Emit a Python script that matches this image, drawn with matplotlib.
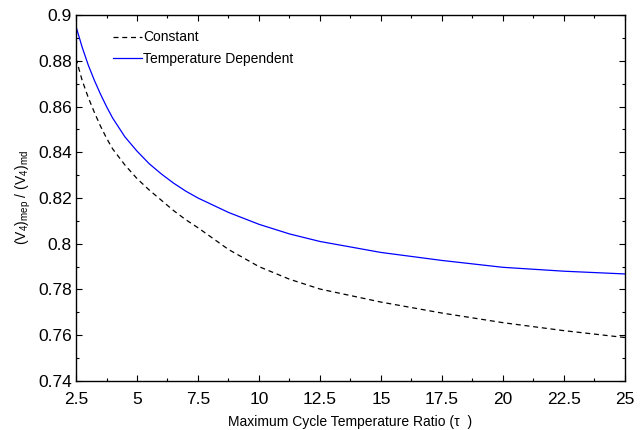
import numpy as np
import matplotlib
matplotlib.use("Agg")
import matplotlib.pyplot as plt
from matplotlib.ticker import MultipleLocator, AutoMinorLocator, FuncFormatter

plt.rcParams['font.family'] = ['Liberation Sans', 'DejaVu Sans']
plt.rcParams['mathtext.fontset'] = 'custom'
plt.rcParams['mathtext.rm'] = 'Liberation Sans'
plt.rcParams['mathtext.it'] = 'Liberation Sans'

#---------------values
tau = [2.5, 2.75, 3.0, 3.25, 3.5, 3.75, 4.0, 4.5, 5.0, 5.5, 6.0, 6.5, 7.0,
       7.5, 8.75, 10.0, 11.25, 12.5, 15.0, 17.5, 20.0, 22.5, 25.0]
constant = [0.8810, 0.8715, 0.8640, 0.8575, 0.8515, 0.8462, 0.8415, 0.8345,
            0.8285, 0.8235, 0.8190, 0.8145, 0.8105, 0.8070, 0.7975, 0.7900,
            0.7845, 0.7802, 0.7745, 0.7697, 0.7655, 0.7620, 0.7590]
temp_dep = [0.8950, 0.8860, 0.8782, 0.8715, 0.8655, 0.8600, 0.8550, 0.8468,
            0.8405, 0.8350, 0.8305, 0.8265, 0.8230, 0.8200, 0.8137, 0.8085,
            0.8043, 0.8010, 0.7962, 0.7927, 0.7897, 0.7880, 0.7868]

fig = plt.figure(figsize=(6.42, 4.30), dpi=100)
ax = fig.add_axes([0.1184, 0.114, 0.855, 0.851])

ax.plot(tau, constant, color='black', lw=0.9, ls=(0, (4, 3)), label='Constant')
ax.plot(tau, temp_dep, color='#0000ff', lw=0.9, label='Temperature Dependent')

ax.set_xlim(2.5, 25)
ax.set_ylim(0.74, 0.9)
ax.xaxis.set_major_locator(MultipleLocator(2.5))
ax.yaxis.set_major_locator(MultipleLocator(0.02))
ax.xaxis.set_minor_locator(AutoMinorLocator(2))
ax.yaxis.set_minor_locator(AutoMinorLocator(2))
fmt = FuncFormatter(lambda v, p: '%g' % round(v, 4))
ax.xaxis.set_major_formatter(fmt)
ax.yaxis.set_major_formatter(fmt)

ax.tick_params(which='both', direction='in', top=True, right=True, labelsize=12.5)
ax.tick_params(which='major', length=4, width=0.8)
ax.tick_params(which='minor', length=2.5, width=0.8)
ax.tick_params(axis='x', which='major', pad=8)
ax.tick_params(axis='y', which='major', pad=3)
for s in ax.spines.values():
    s.set_linewidth(1.0)

ax.set_xlabel('Maximum Cycle Temperature Ratio (\u03c4  )', fontsize=10, labelpad=6)
ax.set_ylabel('(V$_4$)$_\\mathrm{mep}$ / (V$_4$)$_\\mathrm{md}$', fontsize=10, labelpad=4)

ax.legend(loc='upper left', bbox_to_anchor=(0.067, 0.958), frameon=False,
          fontsize=10, handlelength=2.1, handletextpad=0.1, borderpad=0,
          borderaxespad=0, labelspacing=0.55)

fig.savefig('out.png', dpi=100)
